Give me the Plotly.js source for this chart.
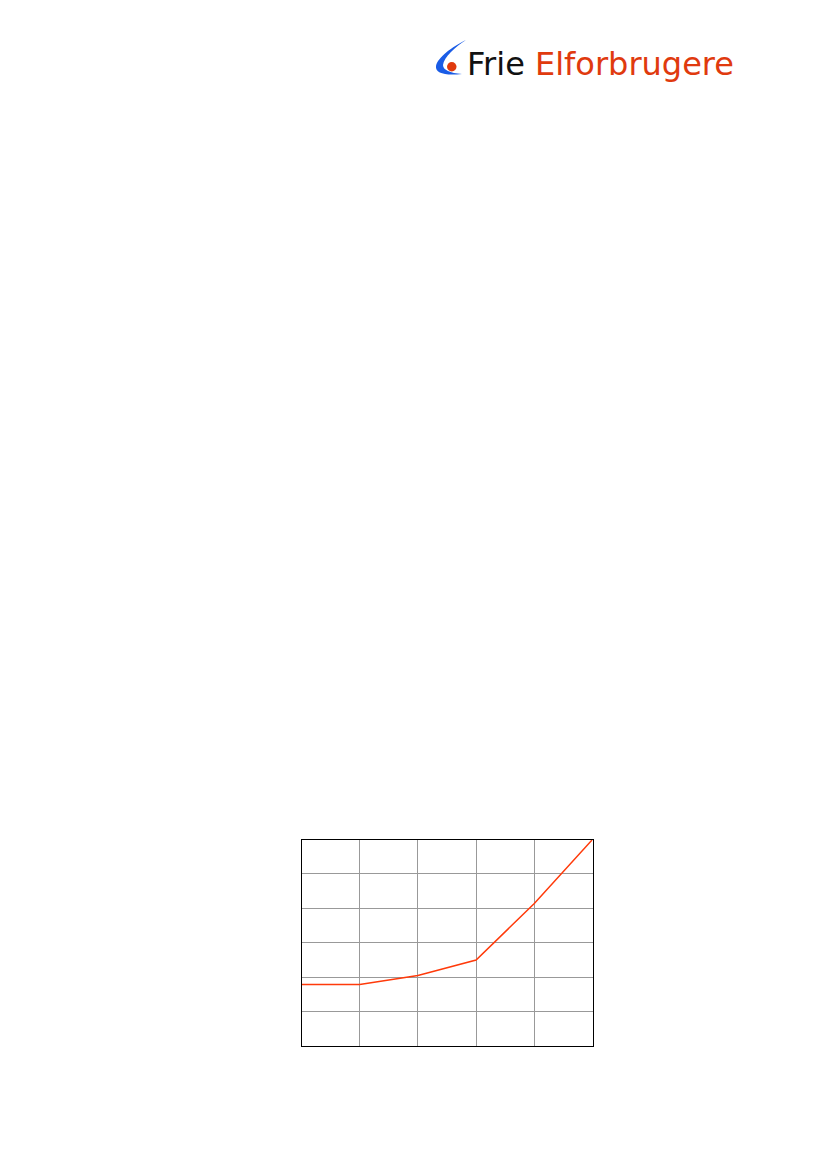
<!DOCTYPE html>
<html>
<head>
<meta charset="utf-8">
<script src="https://cdn.plot.ly/plotly-3.0.1.min.js"></script>
<style>
  html, body { margin: 0; padding: 0; background: #fff; }
  #chart { width: 826px; height: 1169px; }
</style>
</head>
<body>
<div id="chart"></div>
<script>
// values (no tick labels shown)
const xVals = [0, 1, 2, 3, 4, 5]
const yVals = [1.79, 1.79, 2.05, 2.5, 4.14, 6.0]
const brandWords = ['Frie', 'Elforbrugere']

const W = 826, H = 1169
const px = (x) => x / W
const py = (y) => 1 - y / H

// turn a path written in page pixels into paper units
function pagePath(cmds) {
    return cmds.map(function (c) {
        if (typeof c === 'string') return c
        return (px(c[0])).toFixed(5) + ',' + (py(c[1])).toFixed(5)
    }).join(' ')
}

const trace = {
    x: xVals,
    y: yVals,
    mode: 'lines',
    line: { color: '#ff3a0a', width: 1.5 },
    hoverinfo: 'skip',
    showlegend: false,
}

const axisStyle = {
    dtick: 1,
    showgrid: true,
    gridcolor: '#999',
    gridwidth: 1,
    zeroline: false,
    showticklabels: false,
    ticks: '',
    showline: true,
    linecolor: '#000',
    linewidth: 1,
    mirror: true,
    fixedrange: true,
}

const layout = {
    width: W,
    height: H,
    margin: { l: 0, r: 0, t: 0, b: 0 },
    paper_bgcolor: '#fff',
    plot_bgcolor: '#fff',
    showlegend: false,
    xaxis: Object.assign({ domain: [px(301.5), px(592.5)], range: [0, 5] }, axisStyle),
    yaxis: Object.assign({ domain: [py(1046), py(839.5)], range: [0, 6] }, axisStyle),
    shapes: [
        {
            type: 'path', xref: 'paper', yref: 'paper',
            path: pagePath([
                'M', [466, 40],
                'C', [452, 47], [438, 57], [436, 66],
                'C', [435, 73], [445, 76], [462, 74],
                'C', [450, 73], [443, 70], [443, 65],
                'C', [444, 57], [455, 47], [466, 40], 'Z']),
            fillcolor: '#1a5ce6', line: { width: 0 },
        },
        {
            type: 'circle', xref: 'paper', yref: 'paper',
            x0: px(447), x1: px(456.5), y0: py(62), y1: py(71.5),
            fillcolor: '#e03a0e', line: { width: 0 },
        },
    ],
    annotations: [
        {
            xref: 'paper', yref: 'paper', x: px(465), y: py(85),
            xanchor: 'left', yanchor: 'bottom',
            showarrow: false,
            text: brandWords[0] + ' <span style="color:#e03a0e">' + brandWords[1] + '</span>',
            font: { family: 'DejaVu Sans', size: 32, color: '#111' },
        },
    ],
}

Plotly.newPlot('chart', [trace], layout, { staticPlot: true })
</script>
</body>
</html>
